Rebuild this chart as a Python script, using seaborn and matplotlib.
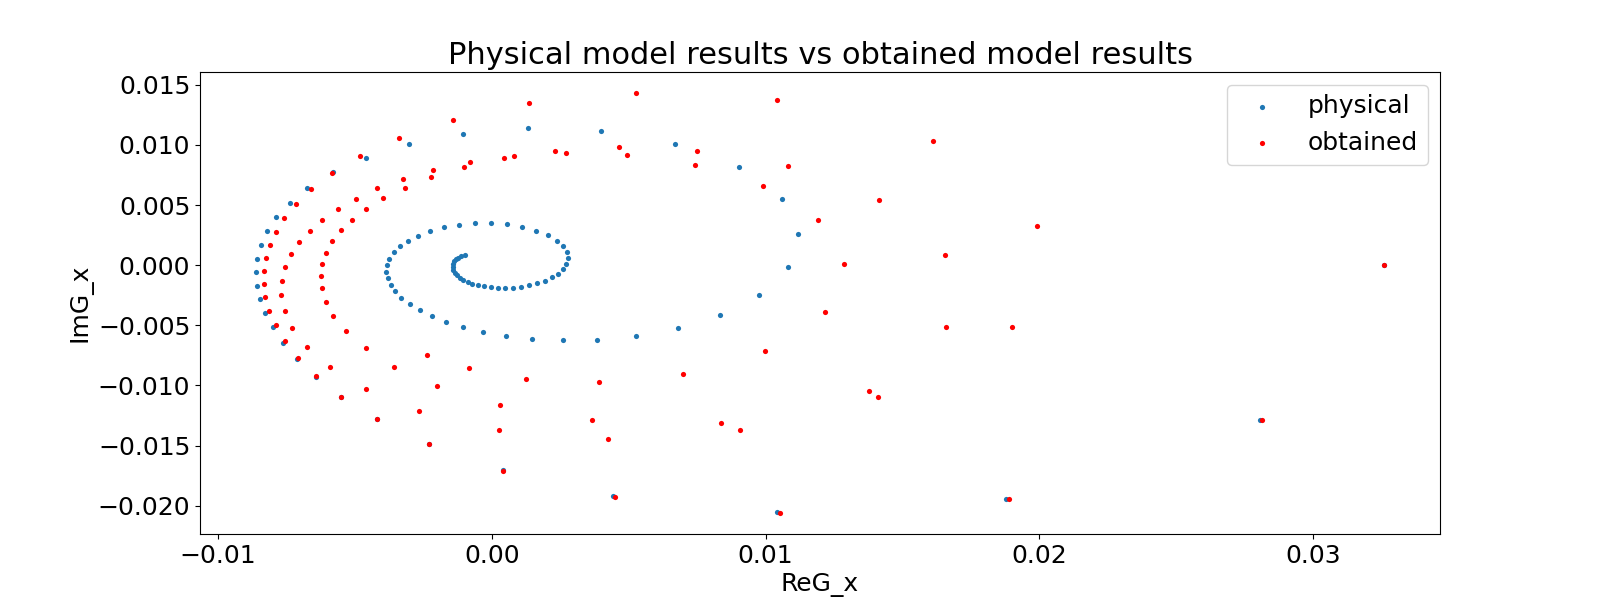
import matplotlib
matplotlib.use("Agg")
import matplotlib.pyplot as plt
import seaborn as sns
import pandas as pd

# physical model (blue spiral)
phys_re = [
    -0.00099, -0.00113, -0.00124, -0.00132, -0.00139, -0.00143, -0.00143, -0.00143,
    -0.00135, -0.00128, -0.00117, -0.00106, -0.00088, -0.00073, -0.00051, -0.00029,
    -0.00004, 0.00022, 0.00048, 0.00077, 0.00106, 0.00135, 0.00164, 0.00194,
    0.00219, 0.00241, 0.00260, 0.00270, 0.00278, 0.00274, 0.00260, 0.00238,
    0.00205, 0.00161, 0.00110, 0.00055, -0.00004, -0.00062, -0.00121, -0.00175,
    -0.00227, -0.00270, -0.00307, -0.00336, -0.00358, -0.00376, -0.00384, -0.00387,
    -0.00380, -0.00369, -0.00355, -0.00333, -0.00300, -0.00263, -0.00219, -0.00168,
    -0.00106, -0.00033, 0.00051, 0.00146, 0.00260, 0.00384, 0.00526, 0.00680,
    0.00833, 0.00976, 0.01082, 0.01118, 0.01060, 0.00903, 0.00669, 0.00398,
    0.00132, -0.00106, -0.00303, -0.00461, -0.00581, -0.00674, -0.00738, -0.00789,
    -0.00822, -0.00844, -0.00859, -0.00863, -0.00859, -0.00848, -0.00830, -0.00800,
    -0.00764, -0.00713, -0.00643, -0.00550, -0.00420, -0.00231, 0.00040, 0.00442,
    0.01042, 0.01879, 0.02806, 0.03260,
]
phys_im = [
    0.00083, 0.00075, 0.00058, 0.00050, 0.00033, 0.00008, -0.00017, -0.00042,
    -0.00067, -0.00083, -0.00108, -0.00125, -0.00141, -0.00158, -0.00166, -0.00175,
    -0.00183, -0.00191, -0.00191, -0.00191, -0.00183, -0.00166, -0.00150, -0.00133,
    -0.00100, -0.00075, -0.00033, 0.00008, 0.00058, 0.00108, 0.00158, 0.00200,
    0.00250, 0.00283, 0.00316, 0.00341, 0.00349, 0.00349, 0.00333, 0.00316,
    0.00283, 0.00241, 0.00200, 0.00158, 0.00108, 0.00050, 0.00000, -0.00058,
    -0.00108, -0.00166, -0.00214, -0.00275, -0.00324, -0.00374, -0.00424, -0.00474,
    -0.00516, -0.00557, -0.00591, -0.00616, -0.00624, -0.00624, -0.00591, -0.00524,
    -0.00416, -0.00250, -0.00017, 0.00258, 0.00549, 0.00815, 0.01007, 0.01115,
    0.01140, 0.01090, 0.01007, 0.00890, 0.00776, 0.00643, 0.00516, 0.00402,
    0.00283, 0.00166, 0.00050, -0.00058, -0.00175, -0.00283, -0.00399, -0.00516,
    -0.00649, -0.00782, -0.00932, -0.01098, -0.01281, -0.01489, -0.01706, -0.01922,
    -0.02052, -0.01947, -0.01290, 0.00000,
]

# obtained model (red)
obt_re = [
    -0.00340, -0.00482, -0.00585, -0.00662, -0.00716, -0.00760, -0.00789, -0.00811,
    -0.00826, -0.00833, -0.00833, -0.00830, -0.00815, -0.00789, -0.00757, -0.00709,
    -0.00643, -0.00550, -0.00420, -0.00231, 0.00042, 0.00450, 0.01053, 0.01890,
    0.02814, 0.03260, 0.01992, 0.01900, 0.01612, 0.01042, 0.00526, 0.00135,
    -0.00143,
    -0.00757, -0.00768, -0.00771, -0.00757, -0.00731, -0.00676, -0.00592, -0.00461,
    -0.00267, -0.00735, -0.00705, -0.00665, -0.00621, -0.00563, -0.00497, -0.00420,
    -0.00325, -0.00216, -0.00080, 0.00080, 0.00270, 0.00493, 0.00742, 0.00990,
    0.01192, 0.01287, 0.01217, 0.00998, 0.00698, 0.00391, 0.00124, -0.00084,
    -0.00238,
    -0.00621, -0.00625, -0.00621, -0.00607, -0.00581, -0.00534, -0.00461, -0.00358,
    -0.00201, 0.00029, 0.00365, 0.00837, 0.01378, 0.01659, 0.01656, 0.01414,
    0.01082, 0.00749, 0.00464, 0.00230, 0.00044, -0.00102, -0.00223, -0.00318,
    -0.00398, -0.00461, -0.00512, -0.00552, -0.00585, -0.00607,
    0.00026, 0.00424, 0.00906, 0.01411,
]
obt_im = [
    0.01057, 0.00907, 0.00765, 0.00632, 0.00507, 0.00391, 0.00275, 0.00166,
    0.00058, -0.00050, -0.00158, -0.00266, -0.00383, -0.00499, -0.00632, -0.00774,
    -0.00923, -0.01098, -0.01281, -0.01489, -0.01714, -0.01930, -0.02063, -0.01947,
    -0.01290, 0.00000, 0.00324, -0.00516, 0.01032, 0.01373, 0.01431, 0.01348,
    0.01206,
    -0.00017, -0.00133, -0.00250, -0.00383, -0.00524, -0.00682, -0.00849, -0.01032,
    -0.01215, 0.00092, 0.00191, 0.00283, 0.00374, 0.00466, 0.00549, 0.00641,
    0.00715, 0.00790, 0.00857, 0.00907, 0.00932, 0.00915, 0.00832, 0.00657,
    0.00374, 0.00008, -0.00391, -0.00715, -0.00907, -0.00973, -0.00948, -0.00857,
    -0.00749,
    0.00008, -0.00092, -0.00191, -0.00308, -0.00424, -0.00549, -0.00691, -0.00849,
    -0.01007, -0.01165, -0.01290, -0.01314, -0.01048, -0.00516, 0.00083, 0.00541,
    0.00824, 0.00948, 0.00982, 0.00948, 0.00890, 0.00815, 0.00732, 0.00641,
    0.00557, 0.00466, 0.00374, 0.00291, 0.00200, 0.00100,
    -0.01373, -0.01448, -0.01373, -0.01098,
]

physical = pd.DataFrame({"ReG_x": phys_re, "ImG_x": phys_im})
obtained = pd.DataFrame({"ReG_x": obt_re, "ImG_x": obt_im})

fig, ax = plt.subplots(figsize=(16, 6), dpi=100)

sns.scatterplot(data=physical, x="ReG_x", y="ImG_x", color="#1f77b4",
                s=14, linewidth=0, label="physical", ax=ax)
sns.scatterplot(data=obtained, x="ReG_x", y="ImG_x", color="red",
                s=14, linewidth=0, label="obtained", ax=ax)

ax.set_xlim(-0.01066, 0.03464)
ax.set_ylim(-0.02235, 0.01606)

ax.set_title("Physical model results vs obtained model results", fontsize=22)
ax.set_xlabel("ReG_x", fontsize=18)
ax.set_ylabel("ImG_x", fontsize=18)
ax.tick_params(labelsize=18)
ax.legend(fontsize=18, loc="upper right")

plt.savefig("out.png", dpi=100)
plt.close()
